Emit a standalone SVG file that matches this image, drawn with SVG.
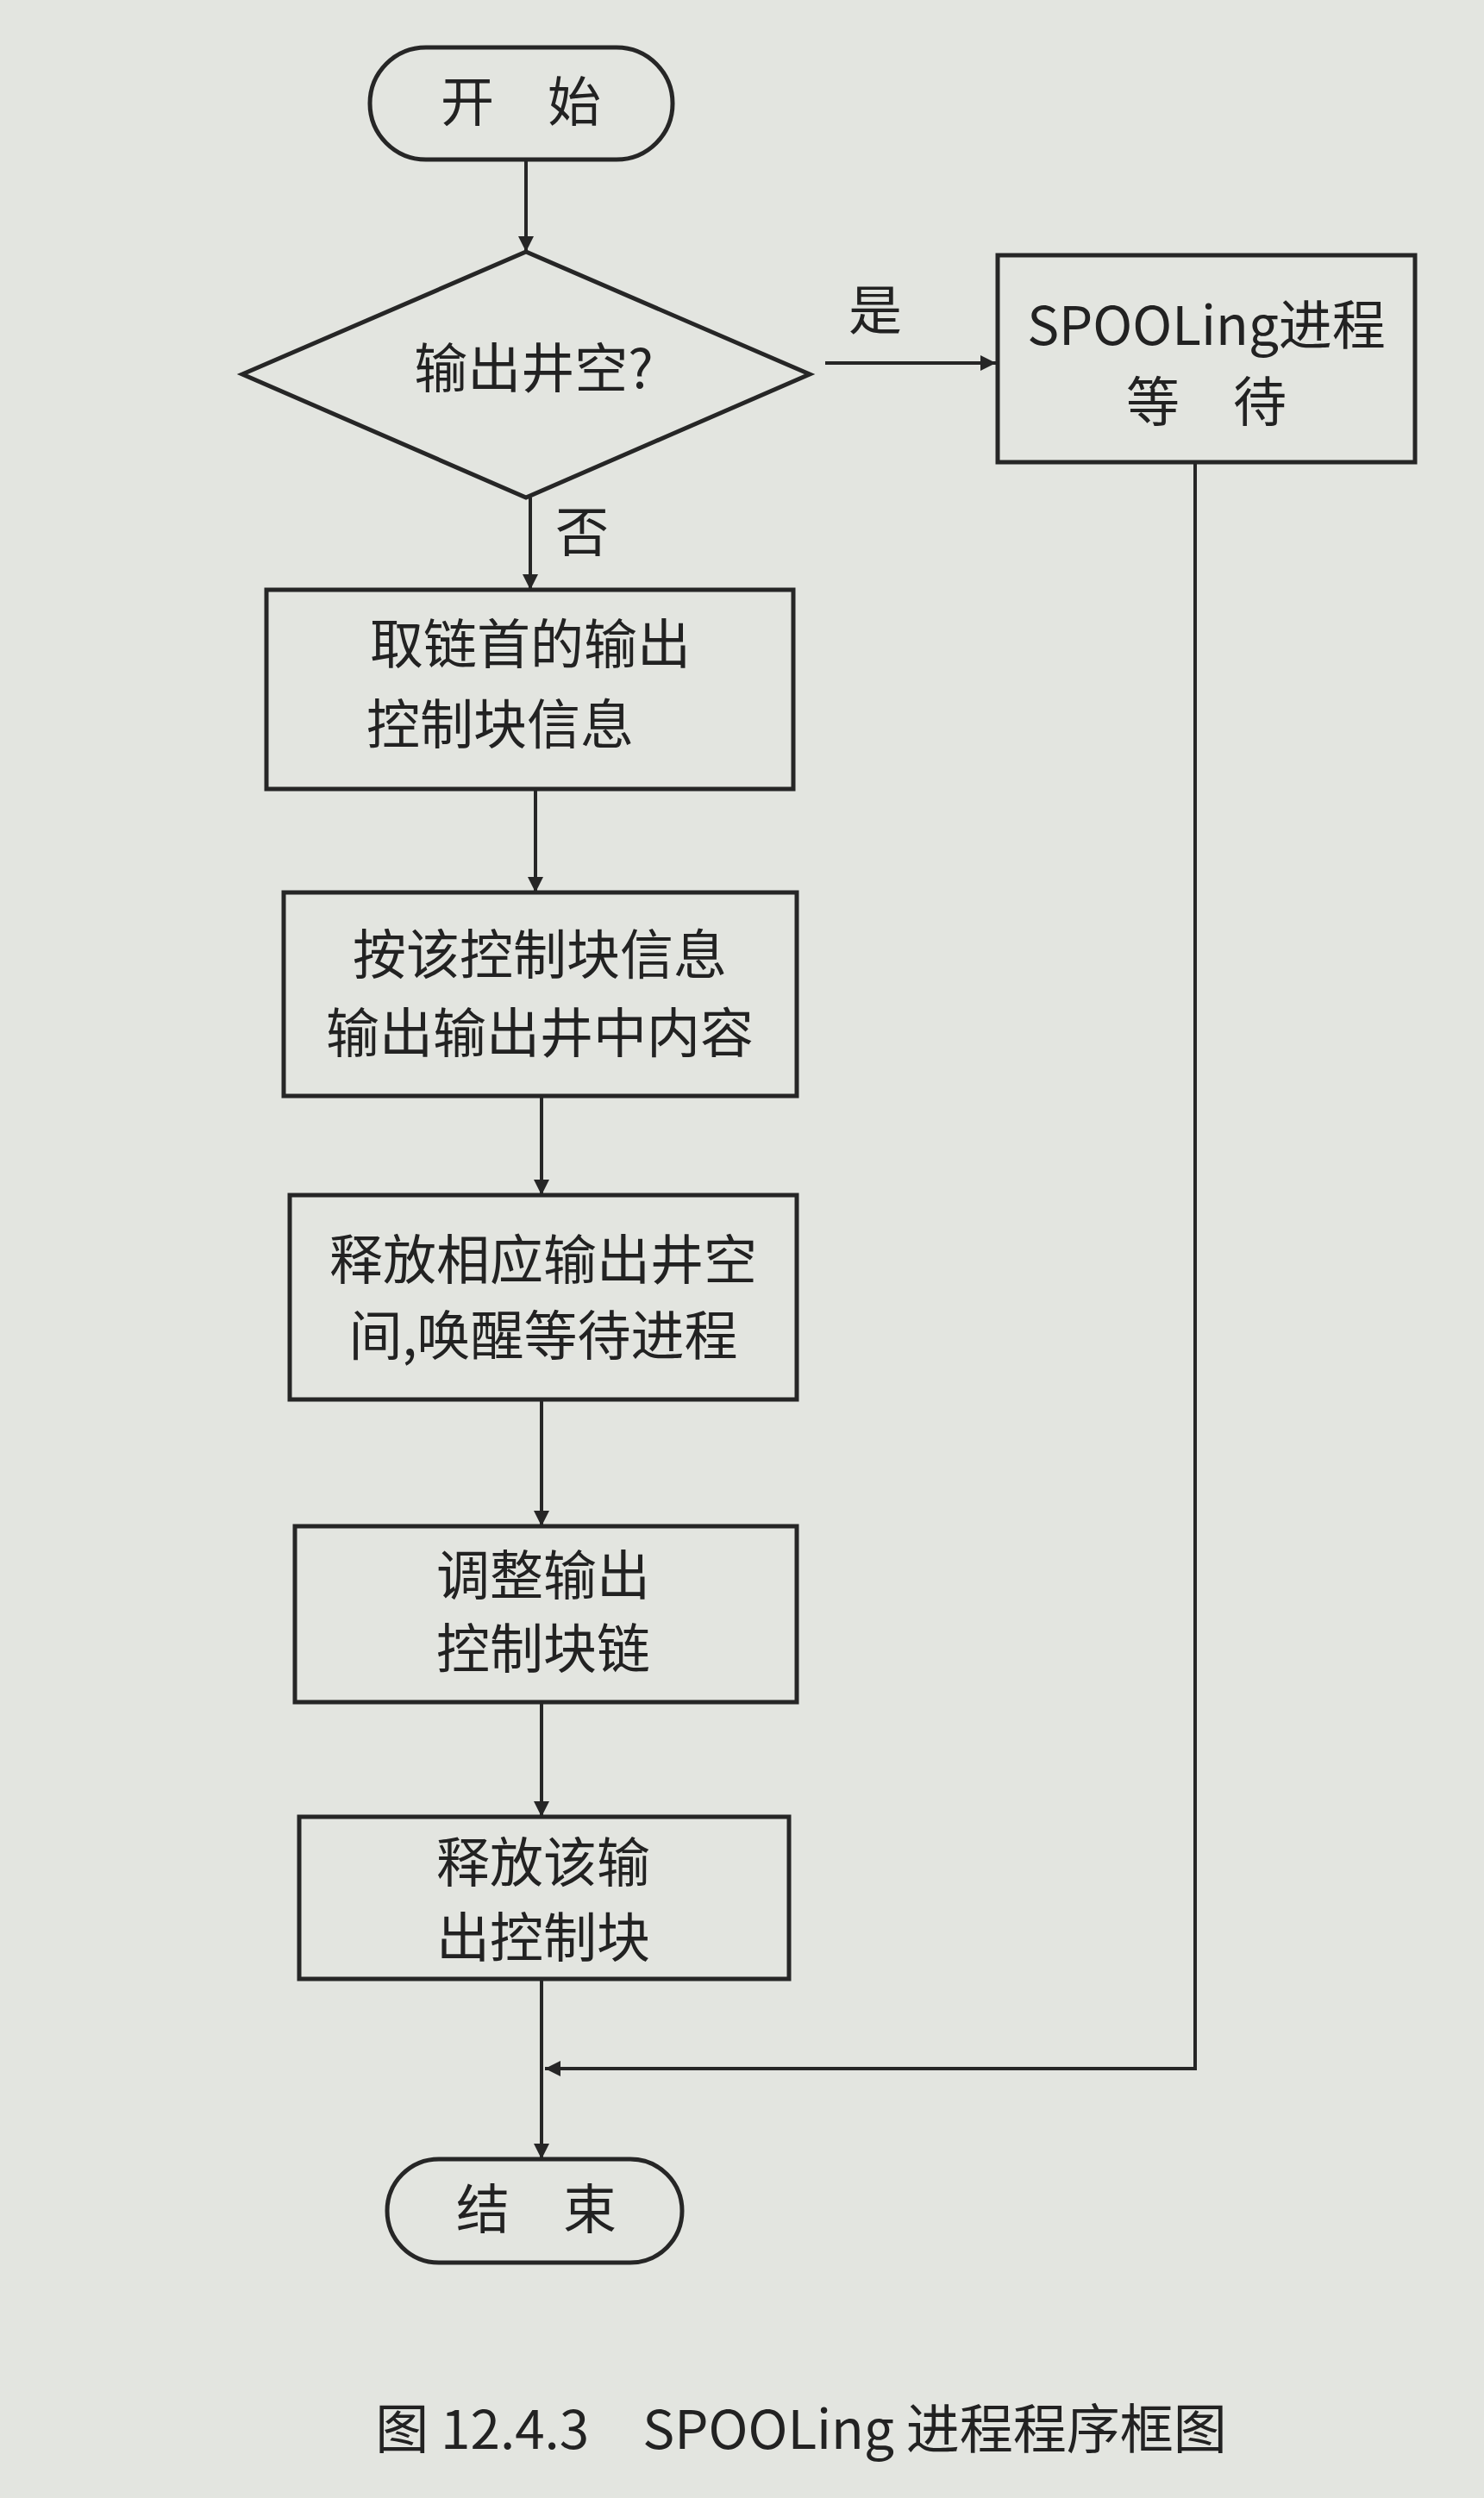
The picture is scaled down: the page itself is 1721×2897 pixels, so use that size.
<svg xmlns="http://www.w3.org/2000/svg" width="1721" height="2897" viewBox="0 0 1721 2897">
<style>
.s{fill:none;stroke:#262626;stroke-width:5}
.t{font-family:"Noto Sans CJK SC","Liberation Sans",sans-serif;font-size:62px;fill:#222;text-anchor:middle}
.c{stroke:#262626;stroke-width:4;fill:none}
</style>
<defs>
<marker id="b" viewBox="0 0 10 10" refX="10" refY="5" markerWidth="30" markerHeight="18" markerUnits="userSpaceOnUse" orient="auto"><path d="M0,0L10,5L0,10z" fill="#262626"/></marker></defs>
<rect width="1721" height="2897" fill="#e3e5e0"/>
<g id="start"><rect class="s" x="429" y="55" width="351" height="130" rx="65"/><text class="t" x="604" y="141">开　始</text></g>
<g id="decision"><polygon class="s" points="281,434 610,292 939,434 610,577"/><text class="t" x="619" y="450">输出井空?</text></g>
<g id="wait"><rect class="s" x="1157" y="296" width="484" height="240"/><text class="t" x="1399" y="400" font-size="56">SPOOLing进程</text><text class="t" x="1399" y="489">等　待</text></g>
<g id="b1"><rect class="s" x="309" y="684" width="611" height="231"/><text class="t" x="615" y="770">取链首的输出</text><text class="t" x="580" y="863">控制块信息</text></g>
<g id="b2"><rect class="s" x="329" y="1035" width="595" height="236"/><text class="t" x="626" y="1130">按该控制块信息</text><text class="t" x="626" y="1221">输出输出井中内容</text></g>
<g id="b3"><rect class="s" x="336" y="1386" width="588" height="237"/><text class="t" x="630" y="1484">释放相应输出井空</text><text class="t" x="630" y="1572">间,唤醒等待进程</text></g>
<g id="b4"><rect class="s" x="342" y="1770" width="582" height="204"/><text class="t" x="630" y="1850">调整输出</text><text class="t" x="630" y="1935">控制块链</text></g>
<g id="b5"><rect class="s" x="347" y="2107" width="568" height="188"/><text class="t" x="630" y="2183">释放该输</text><text class="t" x="630" y="2270">出控制块</text></g>
<g id="end"><rect class="s" x="449" y="2504" width="342" height="120" rx="60"/><text class="t" x="622" y="2585">结　束</text></g>
<g id="connectors">
<line class="c" x1="610" y1="185" x2="610" y2="292" marker-end="url(#b)"/>
<line class="c" x1="957" y1="421" x2="1155" y2="421" marker-end="url(#b)"/>
<line class="c" x1="615" y1="577" x2="615" y2="684" marker-end="url(#b)"/>
<line class="c" x1="621" y1="915" x2="621" y2="1035" marker-end="url(#b)"/>
<line class="c" x1="628" y1="1271" x2="628" y2="1386" marker-end="url(#b)"/>
<line class="c" x1="628" y1="1623" x2="628" y2="1770" marker-end="url(#b)"/>
<line class="c" x1="628" y1="1974" x2="628" y2="2107" marker-end="url(#b)"/>
<line class="c" x1="628" y1="2295" x2="628" y2="2504" marker-end="url(#b)"/>
<polyline class="c" points="1386,536 1386,2399 632,2399" marker-end="url(#b)"/>
<text class="t" x="1015" y="383">是</text>
<text class="t" x="675" y="640">否</text>
</g>
<text class="t" x="929" y="2840" font-size="56">图 12.4.3　SPOOLing 进程程序框图</text>
</svg>
